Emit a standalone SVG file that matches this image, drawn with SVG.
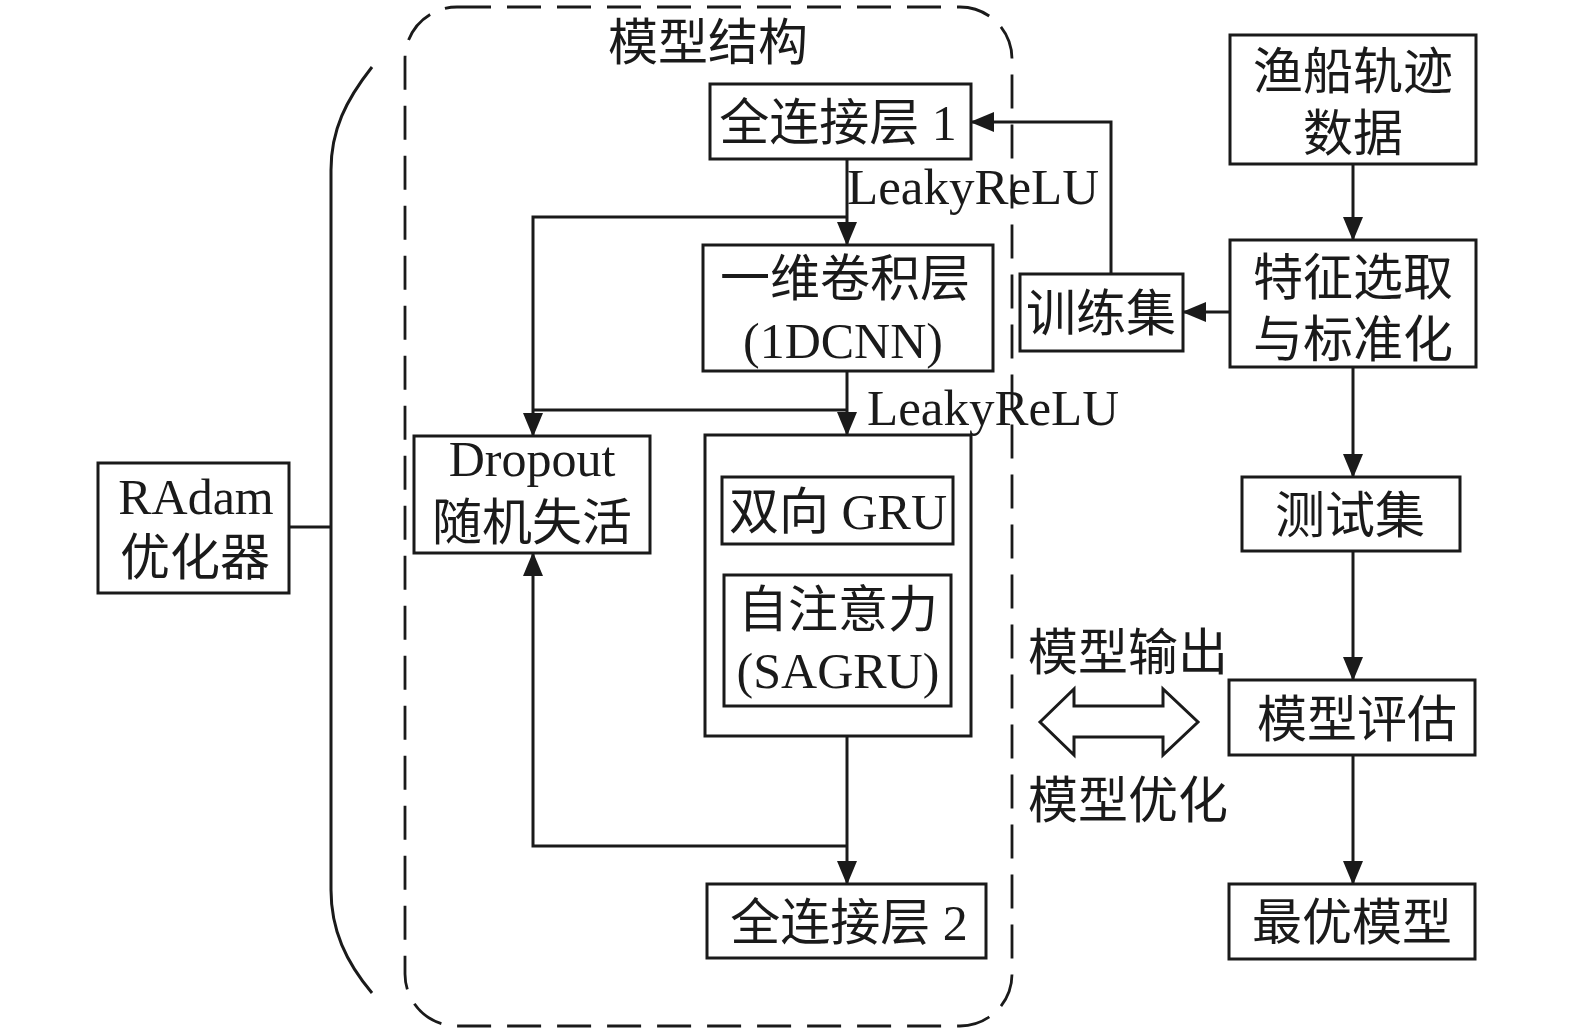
<svg xmlns="http://www.w3.org/2000/svg" width="1575" height="1033" viewBox="0 0 1575 1033">
<style>
.box{fill:#fff;stroke:#1a1a1a;stroke-width:3}
.ln{fill:none;stroke:#1a1a1a;stroke-width:3}
.t{font-family:"Liberation Serif","Noto Sans CJK SC",serif;font-size:50px;fill:#1a1a1a;text-anchor:middle}
.tl{font-family:"Liberation Serif","Noto Sans CJK SC",serif;font-size:51px;fill:#1a1a1a;text-anchor:start}
</style>
<defs>
<marker id="ah" markerUnits="userSpaceOnUse" markerWidth="24" markerHeight="20" refX="23" refY="10" orient="auto">
<path d="M0,0 L24,10 L0,20 z" fill="#1a1a1a"/>
</marker>
</defs>
<rect width="1575" height="1033" fill="#fff"/>
<g id="container">
<rect x="405" y="7" width="607" height="1019" rx="52" ry="52" fill="none" stroke="#1a1a1a" stroke-width="2.8" stroke-dasharray="34 16"/>
<text class="t" x="708" y="60">模型结构</text>
</g>
<g id="brace">
<path class="ln" d="M372,67 C346,100 331,130 331,170 L331,890 C331,930 346,962 372,993" stroke-width="2.5"/>
</g>
<g id="connectors">
<path class="ln" d="M289,527 L331,527" stroke-width="2.5"/>
<path class="ln" d="M847,159 L847,245" marker-end="url(#ah)"/>
<path class="ln" d="M847,217 L533,217 L533,436" marker-end="url(#ah)"/>
<path class="ln" d="M847,371 L847,435" marker-end="url(#ah)"/>
<path class="ln" d="M847,410 L533,410"/>
<path class="ln" d="M847,736 L847,884" marker-end="url(#ah)"/>
<path class="ln" d="M847,846 L533,846 L533,553" marker-end="url(#ah)"/>
<path class="ln" d="M1111,274 L1111,122 L971,122" marker-end="url(#ah)"/>
<path class="ln" d="M1230,312 L1183,312" marker-end="url(#ah)"/>
<path class="ln" d="M1353,164 L1353,240" marker-end="url(#ah)"/>
<path class="ln" d="M1353,367 L1353,477" marker-end="url(#ah)"/>
<path class="ln" d="M1353,551 L1353,680" marker-end="url(#ah)"/>
<path class="ln" d="M1353,755 L1353,884" marker-end="url(#ah)"/>
<text class="tl" x="847" y="204">LeakyReLU</text>
<text class="tl" x="867" y="425">LeakyReLU</text>
</g>
<g id="radam">
<rect class="box" x="98" y="463" width="191" height="130"/>
<text class="t" x="196" y="514">RAdam</text>
<text class="t" x="195" y="575">优化器</text>
</g>
<g id="fc1">
<rect class="box" x="710" y="84" width="261" height="75"/>
<text class="t" x="838" y="140">全连接层 1</text>
</g>
<g id="cnn">
<rect class="box" x="703" y="245" width="290" height="126"/>
<text class="t" x="845" y="296">一维卷积层</text>
<text class="t" x="843" y="358">(1DCNN)</text>
</g>
<g id="dropout">
<rect class="box" x="414" y="436" width="236" height="117"/>
<text class="t" x="532" y="476">Dropout</text>
<text class="t" x="532" y="540">随机失活</text>
</g>
<g id="sagru">
<rect class="box" x="705" y="435" width="266" height="301"/>
<rect class="box" x="722" y="477" width="231" height="67"/>
<text class="t" x="838" y="529">双向 GRU</text>
<rect class="box" x="724" y="575" width="227" height="131"/>
<text class="t" x="838" y="627">自注意力</text>
<text class="t" x="838" y="688">(SAGRU)</text>
</g>
<g id="fc2">
<rect class="box" x="707" y="884" width="279" height="74"/>
<text class="t" x="849" y="940">全连接层 2</text>
</g>
<g id="data">
<rect class="box" x="1230" y="35" width="246" height="129"/>
<text class="t" x="1353" y="89">渔船轨迹</text>
<text class="t" x="1353" y="151">数据</text>
</g>
<g id="feature">
<rect class="box" x="1230" y="240" width="246" height="127"/>
<text class="t" x="1353" y="295">特征选取</text>
<text class="t" x="1353" y="357">与标准化</text>
</g>
<g id="train">
<rect class="box" x="1020" y="274" width="163" height="77"/>
<text class="t" x="1101" y="331">训练集</text>
</g>
<g id="test">
<rect class="box" x="1242" y="477" width="218" height="74"/>
<text class="t" x="1350" y="533">测试集</text>
</g>
<g id="eval">
<rect class="box" x="1229" y="680" width="246" height="75"/>
<text class="t" x="1357" y="737">模型评估</text>
</g>
<g id="best">
<rect class="box" x="1229" y="884" width="246" height="75"/>
<text class="t" x="1352" y="940">最优模型</text>
</g>
<g id="loop">
<text class="t" x="1128" y="670">模型输出</text>
<polygon points="1040,722 1074,689 1074,706 1163,706 1163,689 1198,722 1163,755 1163,737 1074,737 1074,755" fill="#fff" stroke="#1a1a1a" stroke-width="3"/>
<text class="t" x="1128" y="818">模型优化</text>
</g>
</svg>
